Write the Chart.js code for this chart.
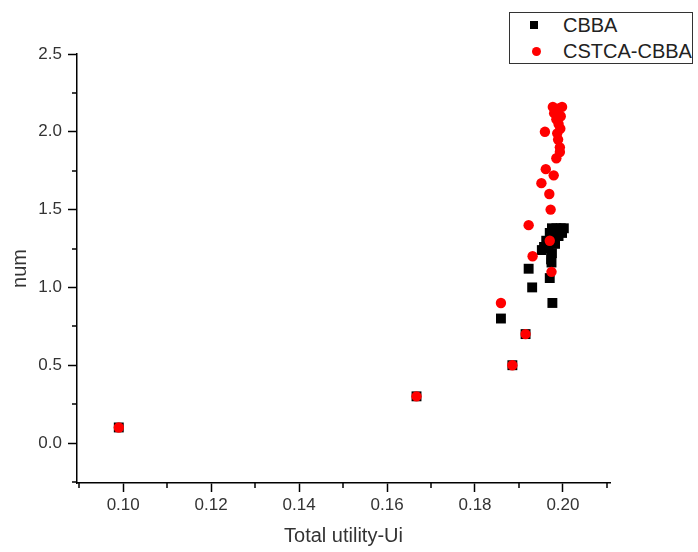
<!DOCTYPE html>
<html>
<head>
<meta charset="utf-8">
<script src="https://cdn.jsdelivr.net/npm/chart.js@4.4.0/dist/chart.umd.min.js"></script>
<style>
  body { margin: 0; background: #fff; }
  #wrap { position: relative; width: 698px; height: 552px; }
  #legend {
    position: absolute; left: 509px; top: 12px; width: 182px; height: 50px;
    border: 1.5px solid #333; font-family: 'Liberation Sans', Arial, sans-serif;
    font-size: 20px; color: #222; background: #fff;
  }
  .row { position: absolute; left: 0; height: 24px; line-height: 24px; }
  .row span.txt { position: absolute; left: 53px; white-space: nowrap; }
  .mk { position: absolute; }
  .sq { left: 20px; top: 8px; width: 8px; height: 8px; background: #000; }
  .ci { left: 22px; top: 8px; width: 9px; height: 9px; background: #f00; border-radius: 50%; }
</style>
</head>
<body>
<div id="wrap">
  <canvas id="chart" width="698" height="552"></canvas>
  <div id="legend">
    <div class="row" style="top:0px"><span class="mk sq"></span><span class="txt">CBBA</span></div>
    <div class="row" style="top:26px"><span class="mk ci"></span><span class="txt">CSTCA-CBBA</span></div>
  </div>
</div>
<script>
// series values
var cbbaX = [0.099, 0.1667, 0.1885, 0.1915, 0.1859, 0.1976, 0.1930, 0.1970, 0.1922, 0.1974, 0.1952,
  0.1975, 0.1985, 0.1995, 0.2002, 0.1970, 0.1980, 0.1990, 0.1998, 0.1962, 0.1972, 0.1982, 0.1957, 0.1967, 0.1975, 0.1973];
var cbbaY = [0.1, 0.3, 0.5, 0.7, 0.8, 0.9, 1.0, 1.06, 1.12, 1.16, 1.24,
  1.38, 1.38, 1.38, 1.38, 1.35, 1.34, 1.33, 1.35, 1.30, 1.31, 1.28, 1.26, 1.25, 1.22, 1.18];

var cstcaX = [0.099, 0.1667, 0.1885, 0.1915, 0.1859, 0.1974, 0.1931, 0.1970, 0.1922, 0.1972, 0.1969,
  0.1951, 0.1979, 0.1961, 0.1985, 0.1993, 0.1993, 0.1989, 0.1959,
  0.1977, 0.1998, 0.1990, 0.1980, 0.1995, 0.1985, 0.1990, 0.1994, 0.1987];
var cstcaY = [0.1, 0.3, 0.5, 0.7, 0.9, 1.1, 1.2, 1.3, 1.4, 1.5, 1.6,
  1.67, 1.72, 1.76, 1.83, 1.87, 1.90, 1.95, 2.0,
  2.16, 2.16, 2.15, 2.12, 2.10, 2.08, 2.05, 2.02, 1.99];

// axes
var xMajor = [0.10, 0.12, 0.14, 0.16, 0.18, 0.20];
var xMinor = [0.09, 0.11, 0.13, 0.15, 0.17, 0.19, 0.21];
var yMajor = [0.0, 0.5, 1.0, 1.5, 2.0, 2.5];
var yMinor = [-0.25, 0.25, 0.75, 1.25, 1.75, 2.25];
var xMin = 0.0895, xMax = 0.2107;
var yMin = -0.257, yMax = 2.5;

function toPoints(xs, ys) {
  var pts = [];
  for (var i = 0; i < xs.length; i++) pts.push({ x: xs[i], y: ys[i] });
  return pts;
}

// little ticks between the labelled ones
var minorTicks = {
  id: 'minorTicks',
  afterDraw: function (chart) {
    var ctx = chart.ctx, sx = chart.scales.x, sy = chart.scales.y;
    ctx.save();
    ctx.strokeStyle = '#000';
    ctx.lineWidth = 1.5;
    xMinor.forEach(function (v) {
      if (v < xMin || v > xMax) return;
      var px = Math.round(sx.getPixelForValue(v));
      ctx.beginPath(); ctx.moveTo(px, sx.top); ctx.lineTo(px, sx.top + 5); ctx.stroke();
    });
    yMinor.forEach(function (v) {
      if (v < yMin || v > yMax) return;
      var py = Math.round(sy.getPixelForValue(v));
      ctx.beginPath(); ctx.moveTo(sy.right, py); ctx.lineTo(sy.right - 5, py); ctx.stroke();
    });
    ctx.restore();
  }
};

var font = 'Liberation Sans, Arial, sans-serif';

new Chart(document.getElementById('chart'), {
  type: 'scatter',
  data: {
    datasets: [
      { label: 'CBBA', data: toPoints(cbbaX, cbbaY), pointStyle: 'rect', pointRadius: 7, pointHoverRadius: 7,
        backgroundColor: '#000', borderColor: '#000', borderWidth: 0, order: 1 },
      { label: 'CSTCA-CBBA', data: toPoints(cstcaX, cstcaY), pointStyle: 'circle', pointRadius: 5.2, pointHoverRadius: 5.2,
        backgroundColor: '#f00', borderColor: '#f00', borderWidth: 0, order: 0 }
    ]
  },
  options: {
    responsive: false,
    animation: false,
    layout: { padding: { top: 54, right: 88, left: 0, bottom: 0 } },
    plugins: { legend: { display: false }, tooltip: { enabled: false } },
    scales: {
      x: {
        type: 'linear', min: xMin, max: xMax,
        afterBuildTicks: function (s) { s.ticks = xMajor.map(function (v) { return { value: v }; }); },
        afterFit: function (s) { s.height = 69; },
        ticks: { callback: function (v) { return v.toFixed(2); }, color: '#333', font: { family: font, size: 17 }, padding: 3, maxRotation: 0, autoSkip: false },
        grid: { drawOnChartArea: false, drawTicks: true, tickLength: 9, tickColor: '#000', tickWidth: 1.5 },
        border: { display: true, color: '#000', width: 1.5 },
        title: { display: true, text: 'Total utility-Ui', color: '#333', font: { family: font, size: 20 }, padding: { top: 2, bottom: 4 } }
      },
      y: {
        type: 'linear', min: yMin, max: yMax,
        afterBuildTicks: function (s) { s.ticks = yMajor.map(function (v) { return { value: v }; }); },
        afterFit: function (s) { s.width = 77; },
        ticks: { callback: function (v) { return v.toFixed(1); }, color: '#333', font: { family: font, size: 17 }, padding: 6, autoSkip: false },
        grid: { drawOnChartArea: false, drawTicks: true, tickLength: 9, tickColor: '#000', tickWidth: 1.5 },
        border: { display: true, color: '#000', width: 1.5 },
        title: { display: true, text: 'num', color: '#333', font: { family: font, size: 20 }, padding: { top: 8, bottom: 0 } }
      }
    }
  },
  plugins: [minorTicks]
});
</script>
</body>
</html>
